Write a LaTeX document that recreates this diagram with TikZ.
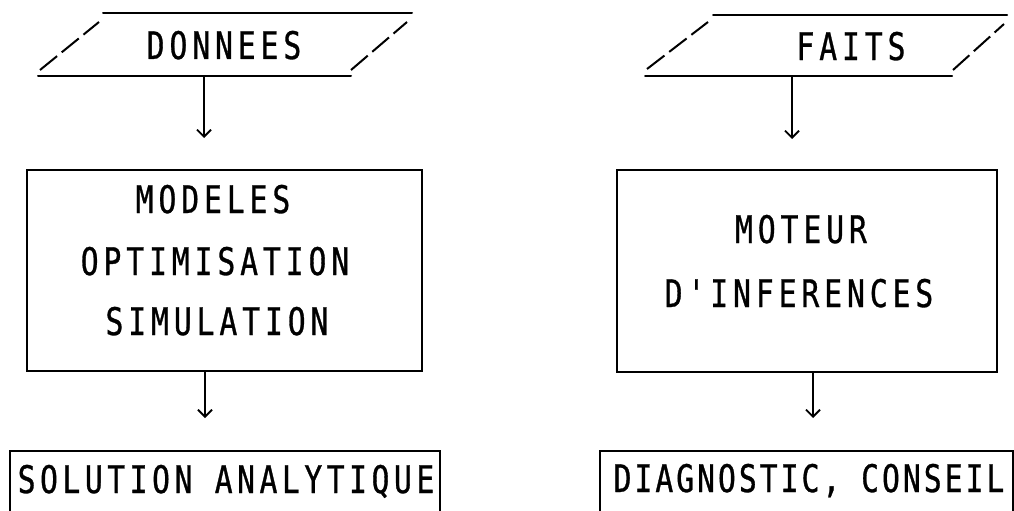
\documentclass[tikz,border=0pt]{standalone}
\usepackage{fontspec}
\newfontfamily\plotter{DejaVu Sans Mono}[FakeStretch=0.78,LetterSpace=13,FakeBold=0.8]
\newfontfamily\plottermid{DejaVu Sans Mono}[FakeStretch=0.78,LetterSpace=12,FakeBold=0.8]
\newfontfamily\plottertight{DejaVu Sans Mono}[FakeStretch=0.78,LetterSpace=8,FakeBold=0.8]
\usetikzlibrary{arrows.meta}

\begin{document}
\begin{tikzpicture}[x=1pt,y=-1pt,
  lbl/.style={font=\plotter\fontsize{38}{38}\selectfont, inner sep=0pt, anchor=base},
  lblmid/.style={lbl, font=\plottermid\fontsize{38}{38}\selectfont},
  lbltight/.style={lbl, font=\plottertight\fontsize{38}{38}\selectfont},
  edge/.style={line width=2pt, line cap=round},
  slant/.style={line width=2pt, dash pattern=on 22pt off 6pt},
  frame/.style={draw, line width=2pt, inner sep=0pt},
  flow/.style={line width=1.8pt, -{Straight Barb[length=7pt,width=14pt]}}]

\clip (0,0) rectangle (1014,511);
\fill[white] (0,0) rectangle (1014,511);

% ---------- left column: classical computation ----------
% input parallelogram
\draw[edge] (103,13) -- (412,13);
\draw[edge] (38,76) -- (351,76);
\draw[slant] (40,70) -- (99,22);
\draw[slant] (351,70) -- (407,22);
\node[lbl] (donnees) at (224,59) {DONNEES};
\coordinate (donnees-out) at (204,76);

% processing box
\node[frame, minimum width=395pt, minimum height=201pt] (calc) at (224.5,270.5) {};
\node[lbl] (modeles) at (213,213) {MODELES};
\node[lbl] (optim) at (215,275) {OPTIMISATION};
\node[lbl] (simul) at (217,335) {SIMULATION};
\coordinate (calc-in) at (204,138);
\coordinate (calc-out) at (205,371);

% result box (runs past the lower edge)
\node[frame, minimum width=430pt, minimum height=120pt] (solution) at (225,511) {};
\node[lblmid] (soltext) at (226,493) {SOLUTION ANALYTIQUE};
\coordinate (solution-in) at (205,418);

\draw[flow] (donnees-out) -- (calc-in);
\draw[flow] (calc-out) -- (solution-in);

% ---------- right column: expert system ----------
% input parallelogram
\draw[edge] (713,15) -- (1007,15);
\draw[edge] (645,76) -- (952,76);
\draw[slant] (647,69) -- (708,22);
\draw[slant] (953,70) -- (1004,24);
\node[lbl] (faits) at (851,60) {FAITS};
\coordinate (faits-out) at (792,76);

% inference engine box
\node[frame, minimum width=380pt, minimum height=202pt] (moteur) at (807,271) {};
\node[lbl] (moteur1) at (801,243) {MOTEUR};
\node[lbl] (moteur2) at (799,307) {D'INFERENCES};
\coordinate (moteur-in) at (792,139);
\coordinate (moteur-out) at (813,372);

% result box (runs past the lower edge)
\node[frame, minimum width=413pt, minimum height=120pt] (diag) at (806.5,511) {};
\node[lbltight] (diagtext) at (809,492) {DIAGNOSTIC, CONSEIL};
\coordinate (diag-in) at (813,418);

\draw[flow] (faits-out) -- (moteur-in);
\draw[flow] (moteur-out) -- (diag-in);
\end{tikzpicture}
\end{document}
